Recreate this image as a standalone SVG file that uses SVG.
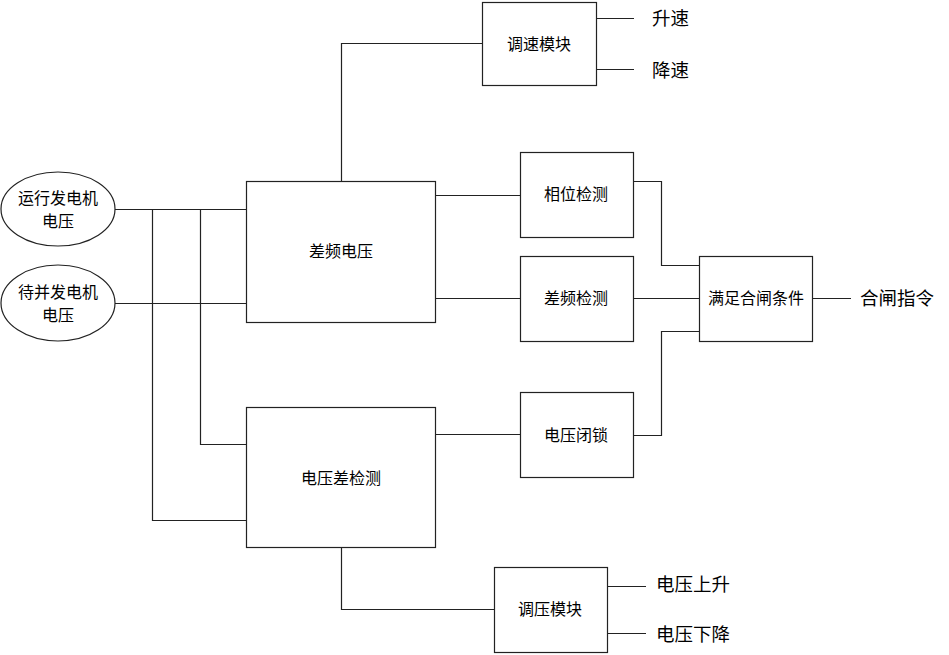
<svg xmlns="http://www.w3.org/2000/svg" width="949" height="655" viewBox="0 0 949 655">
<style>
.n{fill:#fff;stroke:#222;stroke-width:1.2}
.c{fill:none;stroke:#222;stroke-width:1.2}
text{font-family:"Noto Sans CJK SC","Noto Sans CJK JP",sans-serif;font-size:16px;fill:#000;text-anchor:middle;dominant-baseline:central}
.o{font-size:18.5px;text-anchor:start}
</style>
<rect width="949" height="655" fill="#fff"/>
<g id="connectors">
<path class="c" d="M115,209.5H246M115,303.5H246M152.5,209.5V520.5H246M200.5,209.5V444.5H246"/>
<path class="c" d="M341.5,181V43.5H482"/>
<path class="c" d="M596,18.5H634M596,69.5H634"/>
<path class="c" d="M435,195.5H520M435,298.5H520M435,434.5H520"/>
<path class="c" d="M633,181.5H661.5V265.5H699M633,298.5H699M633,435.5H661.5V331.5H699"/>
<path class="c" d="M812,298.5H851"/>
<path class="c" d="M341.5,547V609.5H494"/>
<path class="c" d="M607,586.5H646M607,633.5H646"/>
</g>
<g id="n_run"><ellipse class="n" cx="58" cy="209" rx="57" ry="37"/><text x="58" y="197">运行发电机</text><text x="58" y="220">电压</text></g>
<g id="n_wait"><ellipse class="n" cx="58" cy="303" rx="57" ry="38"/><text x="58" y="291">待并发电机</text><text x="58" y="314">电压</text></g>
<g id="n_diffv"><rect class="n" x="246.5" y="181.5" width="189" height="141"/><text x="341" y="250">差频电压</text></g>
<g id="n_vdiff"><rect class="n" x="246.5" y="407.5" width="189" height="140"/><text x="341" y="477">电压差检测</text></g>
<g id="n_speed"><rect class="n" x="482.5" y="2.5" width="114" height="83"/><text x="539" y="43">调速模块</text></g>
<g id="n_phase"><rect class="n" x="520.5" y="152.5" width="113" height="85"/><text x="576" y="193">相位检测</text></g>
<g id="n_freq"><rect class="n" x="520.5" y="256.5" width="113" height="85"/><text x="576" y="297">差频检测</text></g>
<g id="n_lock"><rect class="n" x="520.5" y="392.5" width="113" height="85"/><text x="576" y="434">电压闭锁</text></g>
<g id="n_cond"><rect class="n" x="699.5" y="256.5" width="113" height="85"/><text x="756" y="297">满足合闸条件</text></g>
<g id="n_volt"><rect class="n" x="494.5" y="567.5" width="113" height="85"/><text x="550" y="608">调压模块</text></g>
<g id="labels">
<text class="o" x="652" y="17">升速</text>
<text class="o" x="652" y="69">降速</text>
<text class="o" x="860" y="297">合闸指令</text>
<text class="o" x="656" y="583">电压上升</text>
<text class="o" x="656" y="633">电压下降</text>
</g>
</svg>
